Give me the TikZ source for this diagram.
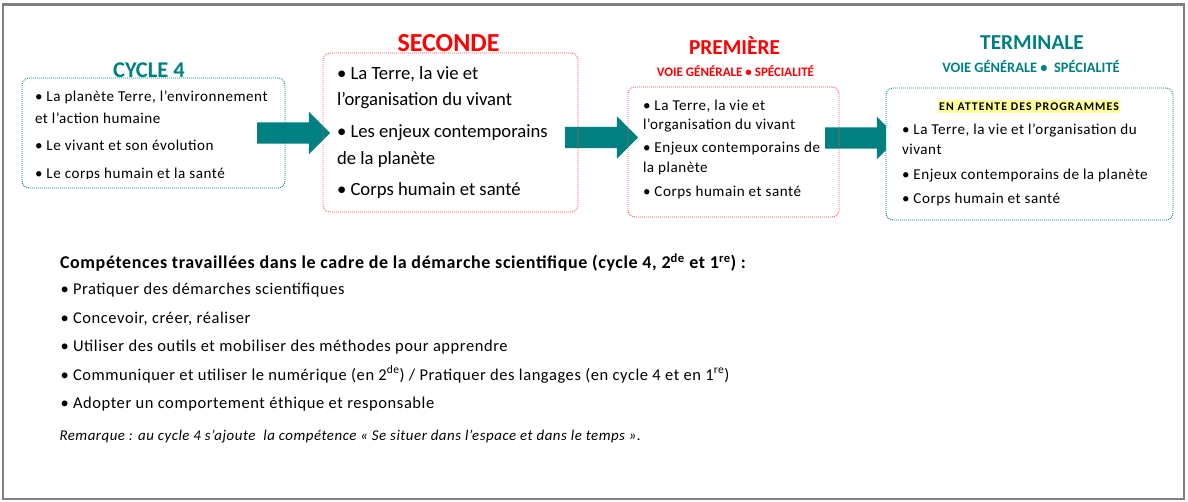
\documentclass[tikz,border=0pt]{standalone}
\usepackage{fontspec}
\setmainfont{Carlito}
\newfontfamily\bodyf[LetterSpace=3.5]{Carlito}
\usetikzlibrary{shapes.arrows}
\definecolor{tealc}{HTML}{008080}
\definecolor{redc}{HTML}{FF0000}
\definecolor{redb}{HTML}{FF5050}
\definecolor{hl}{HTML}{FFFF99}
\definecolor{framec}{HTML}{808080}
\newcommand{\fsz}[1]{\fontsize{#1}{#1}\selectfont}
\begin{document}
\begin{tikzpicture}[x=1pt,y=-1pt,
  every node/.style={inner sep=0pt, outer sep=0pt},
  dotbox/.style={line width=0.9pt, dash pattern=on 0.9pt off 1.1pt, rounded corners=7pt},
  tealbox/.style={dotbox, draw=tealc},
  redbox/.style={dotbox, draw=redb},
  blockarrow/.style={single arrow, fill=tealc, draw=none, minimum height=73pt,
    inner xsep=0pt, inner ysep=10.5pt, anchor=tail,
    single arrow head extend=10.5pt, single arrow tip angle=90},
  ttl/.style={anchor=base, font=\bfseries\fsz{21.3}},
  sub/.style={anchor=base, font=\bfseries\fsz{13}},
  small/.style={anchor=base west, font=\bodyf\fsz{15.1}},
  big/.style={anchor=base west, font=\fsz{18.67}},
  body/.style={anchor=base west, font=\bodyf\fsz{16.5}},
]
\useasboundingbox (0,0) rectangle (1188,502);
\draw[framec, line width=2.5pt] (3,4.5) rectangle (1184,499);

% block arrows
\node[blockarrow] (a1) at (257,133) {};
\node[blockarrow] (a2) at (565,137.5) {};
\node[blockarrow] (a3) at (825,138) {};

% boxes
\node[tealbox, minimum width=263pt, minimum height=110pt] (c4) at (153.5,133) {};
\node[redbox, minimum width=255pt, minimum height=159pt] (sec) at (450.5,132.5) {};
\node[redbox, minimum width=211pt, minimum height=130pt] (pre) at (733.5,152) {};
\node[tealbox, fill=white, minimum width=287pt, minimum height=132pt] (ter) at (1029.5,154) {};

% titles
\node[ttl, text=tealc, font=\bfseries\fsz{22.5}] (t1) at (149,78) {CYCLE 4};
\node[ttl, text=redc, font=\bfseries\fsz{26}] (t2) at (448.5,52) {SECONDE};
\node[ttl, text=redc] (t3) at (734.5,55) {PREMIÈRE};
\node[sub, text=redc] (s3) at (735.5,77) {VOIE GÉNÉRALE • SPÉCIALITÉ};
\node[ttl, text=tealc] (t4) at (1032,50) {TERMINALE};
\node[sub, text=tealc, font=\bfseries\fsz{14.4}] (s4) at (1031,73) {VOIE GÉNÉRALE •\ \ SPÉCIALITÉ};

% cycle 4 text
\node[small] (c4l1) at (35,101.7) {• La planète Terre, l’environnement};
\node[small] (c4l2) at (35,123.3) {et l’action humaine};
\node[small] (c4l3) at (35,150.7) {• Le vivant et son évolution};
\begin{scope}
  \clip (30,160) rectangle (290,178.5);
  \node[small] (c4l4) at (35,178.5) {• Le corps humain et la santé};
\end{scope}

% seconde text
\node[big] (sl1) at (337,79.3) {• La Terre, la vie et};
\node[big] (sl2) at (337,106) {l’organisation du vivant};
\node[big] (sl3) at (337,138) {• Les enjeux contemporains};
\node[big] (sl4) at (337,165) {de la planète};
\node[big] (sl5) at (337,196) {• Corps humain et santé};

% premiere text
\node[small] (pl1) at (643,110.7) {• La Terre, la vie et};
\node[small] (pl2) at (643,130) {l’organisation du vivant};
\node[small] (pl3) at (643,153) {• Enjeux contemporains de};
\node[small] (pl4) at (643,172.7) {la planète};
\node[small] (pl5) at (643,196.7) {• Corps humain et santé};

% terminale text
\node[anchor=base, fill=hl, inner xsep=1pt, inner ysep=2.5pt, font=\bfseries\fsz{11.8}\addfontfeature{LetterSpace=9}] (wait) at (1029,110.7) {EN ATTENTE DES PROGRAMMES};
\node[small] (tl1) at (902,135) {• La Terre, la vie et l’organisation du};
\node[small] (tl2) at (902,155) {vivant};
\node[small] (tl3) at (902,180) {• Enjeux contemporains de la planète};
\node[small] (tl4) at (902,204) {• Corps humain et santé};

% competences
\node[body, font=\bodyf\bfseries\fsz{18}] (hd) at (60,268.3) {Compétences travaillées dans le cadre de la démarche scientifique (cycle 4, 2\textsuperscript{de} et 1\textsuperscript{re}) :};
\node[body] (b1) at (60.5,295) {• Pratiquer des démarches scientifiques};
\node[body] (b2) at (60.5,323.3) {• Concevoir, créer, réaliser};
\node[body] (b3) at (60.5,351.7) {• Utiliser des outils et mobiliser des méthodes pour apprendre};
\node[body] (b4) at (60.5,380) {• Communiquer et utiliser le numérique (en 2\textsuperscript{de}) / Pratiquer des langages (en cycle 4 et en 1\textsuperscript{re})};
\node[body] (b5) at (60.5,408.5) {• Adopter un comportement éthique et responsable};
\node[body, font=\bodyf\itshape\fsz{14.9}] (rq) at (59.5,440) {Remarque : au cycle 4 s’ajoute \ la compétence « Se situer dans l’espace et dans le temps ».};
\end{tikzpicture}
\end{document}
